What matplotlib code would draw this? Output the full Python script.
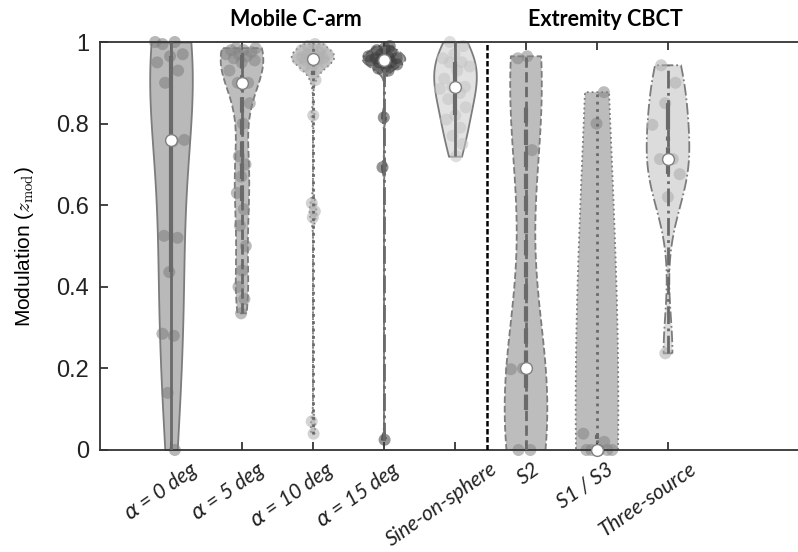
import matplotlib
matplotlib.use("Agg")
import matplotlib.pyplot as plt
import matplotlib.transforms as mtransforms
from matplotlib import mlab
import numpy as np

# categories (x tick labels)
labels = [r"$\alpha$ = 0 deg", r"$\alpha$ = 5 deg", r"$\alpha$ = 10 deg", r"$\alpha$ = 15 deg",
          "Sine-on-sphere", "S2", "S1 / S3", "Three-source"]
headers = ["Mobile C-arm", "Extremity CBCT"]

# modulation values
alpha_0 = [1.0, 1.0, 0.995, 0.97, 0.965, 0.95, 0.93, 0.90, 0.76, 0.757, 0.525, 0.52,
           0.436, 0.285, 0.28, 0.14, 0.0]
alpha_5 = [0.985, 0.985, 0.98, 0.98, 0.975, 0.97, 0.97, 0.965, 0.96, 0.955, 0.95,
           0.93, 0.90, 0.90, 0.85, 0.80, 0.72, 0.70, 0.67, 0.63, 0.59, 0.55, 0.50,
           0.44, 0.40, 0.37, 0.335]
alpha_10 = [0.995, 0.99, 0.985, 0.98, 0.98, 0.975, 0.97, 0.97, 0.965, 0.962, 0.96,
            0.96, 0.958, 0.958, 0.955, 0.95, 0.945, 0.94, 0.935, 0.93, 0.907, 0.82,
            0.605, 0.585, 0.57, 0.07, 0.04]
alpha_15 = [0.99, 0.985, 0.98, 0.975, 0.97, 0.965, 0.962, 0.96, 0.96, 0.958, 0.955,
            0.95, 0.95, 0.945, 0.94, 0.935, 0.93, 0.815, 0.693, 0.025]
sine_sphere = [1.0, 0.99, 0.97, 0.96, 0.95, 0.95, 0.94, 0.93, 0.91, 0.89, 0.89, 0.885,
               0.875, 0.86, 0.84, 0.82, 0.81, 0.79, 0.77, 0.75, 0.72]
s2 = [0.965, 0.96, 0.735, 0.2, 0.198, 0.0, 0.0]
s1_s3 = [0.877, 0.80, 0.04, 0.02, 0.0, 0.0, 0.0, 0.0, 0.0]
three_source = [0.943, 0.90, 0.85, 0.797, 0.713, 0.713, 0.676, 0.62, 0.237]

groups = [alpha_0, alpha_5, alpha_10, alpha_15, sine_sphere, s2, s1_s3, three_source]

# styles
face_colors = ['#b9b9b9', '#bdbdbd', '#d2d2d2', '#a9a9a9', '#e2e2e2', '#bdbdbd', '#bcbcbc', '#dcdcdc']
dot_colors = ['#7e7e7e', '#858585', '#b0b0b0', '#3c3c3c', '#c4c4c4', '#858585', '#858585', '#acacac']
line_styles = ['-', '--', ':', '-.', '-', '--', ':', '-.']
label_shift_px = [25, 21, 19, 14, 40, 12, 14, 27]   # hand placed labels in the original
edge_color = '#7c7c7c'
center_color = '#6a6a6a'
half_width = 0.3


def ksdensity_bw(kde):
    # MATLAB ksdensity default bandwidth (robust sigma)
    x = kde.dataset.ravel()
    sig = np.median(np.abs(x - np.median(x))) / 0.6745
    if sig <= 0:
        sig = x.max() - x.min()
    bw = sig * (4.0 / (3 * len(x))) ** 0.2
    return bw / np.std(x, ddof=1)


fig = plt.figure(figsize=(7.98, 5.52), dpi=100)
ax = fig.add_axes([100 / 798, 102 / 552, 710 / 798, 408 / 552])

positions = np.arange(1, len(groups) + 1)
for i, (pos, data) in enumerate(zip(positions, groups)):
    data = np.asarray(data, dtype=float)
    parts = ax.violinplot(data, positions=[pos], widths=2 * half_width, showextrema=False,
                          bw_method=ksdensity_bw, points=200)
    for body in parts['bodies']:
        body.set_facecolor(face_colors[i])
        body.set_edgecolor(edge_color)
        body.set_alpha(1)
        body.set_linewidth(1.3)
        body.set_linestyle(line_styles[i])
        body.set_zorder(1)

    # jittered data points inside the violin
    kde = mlab.GaussianKDE(data, bw_method=ksdensity_bw)
    grid = np.linspace(data.min(), data.max(), 200)
    dmax = kde.evaluate(grid).max()
    dens = kde.evaluate(data) / dmax
    k = np.arange(len(data))
    jit = 2 * ((k * 0.618034 + 0.31 * i) % 1) - 1
    xs = pos + jit * dens * half_width * 0.8
    ax.scatter(xs, data, s=75, color=dot_colors[i], alpha=0.55, edgecolors='none',
               zorder=2, clip_on=False)

    q1, med, q3 = np.percentile(data, [25, 50, 75])
    ax.plot([pos, pos], [data.min(), data.max()], color=center_color, lw=2.0,
            ls=line_styles[i], zorder=3, solid_capstyle='butt')
    ax.plot([pos, pos], [q1, q3], color=center_color, lw=3.0,
            ls=line_styles[i], zorder=3, solid_capstyle='butt')
    ax.scatter([pos], [med], s=72, facecolor='white', edgecolor='#808080', lw=1.0,
               zorder=4, clip_on=False)

ax.axvline(5.45, color='black', ls=(0, (2.2, 1.0)), lw=1.8, zorder=5)

ax.set_xlim(0, 10)
ax.set_ylim(0, 1)
ax.set_yticks([0, 0.2, 0.4, 0.6, 0.8, 1])
ax.set_yticklabels(['0', '0.2', '0.4', '0.6', '0.8', '1'], family='Liberation Sans', fontsize=17)
ax.set_xticks(positions)
ax.set_xticklabels(labels, rotation=35, ha='right', va='center', rotation_mode='anchor',
                   family='Lato', fontstyle='italic', fontsize=15)
ax.tick_params(axis='x', direction='in', top=True, length=6, width=1.2, pad=8, colors='#222222')
ax.tick_params(axis='y', direction='in', length=6, width=1.2, pad=8, colors='#222222')
for lab, dx in zip(ax.get_xticklabels(), label_shift_px):
    lab.set_math_fontfamily('dejavusans')
    lab.set_transform(lab.get_transform() +
                      mtransforms.ScaledTranslation(dx / 100, -0.06, fig.dpi_scale_trans))
for sp in ax.spines.values():
    sp.set_color('#333333')
    sp.set_linewidth(1.3)

ylab = ax.set_ylabel(r"Modulation ($z_{\mathrm{mod}}$)", family='Liberation Sans', fontsize=15)
ylab.set_math_fontfamily('cm')
ax.yaxis.set_label_coords(-0.09, 0.5)

fig.text(296 / 798, 1 - 20 / 552, headers[0], ha='center', va='center',
         family='Lato', fontweight='bold', fontsize=15.5)
fig.text(605 / 798, 1 - 20 / 552, headers[1], ha='center', va='center',
         family='Lato', fontweight='bold', fontsize=15.5)

fig.savefig("out.png", dpi=100)
